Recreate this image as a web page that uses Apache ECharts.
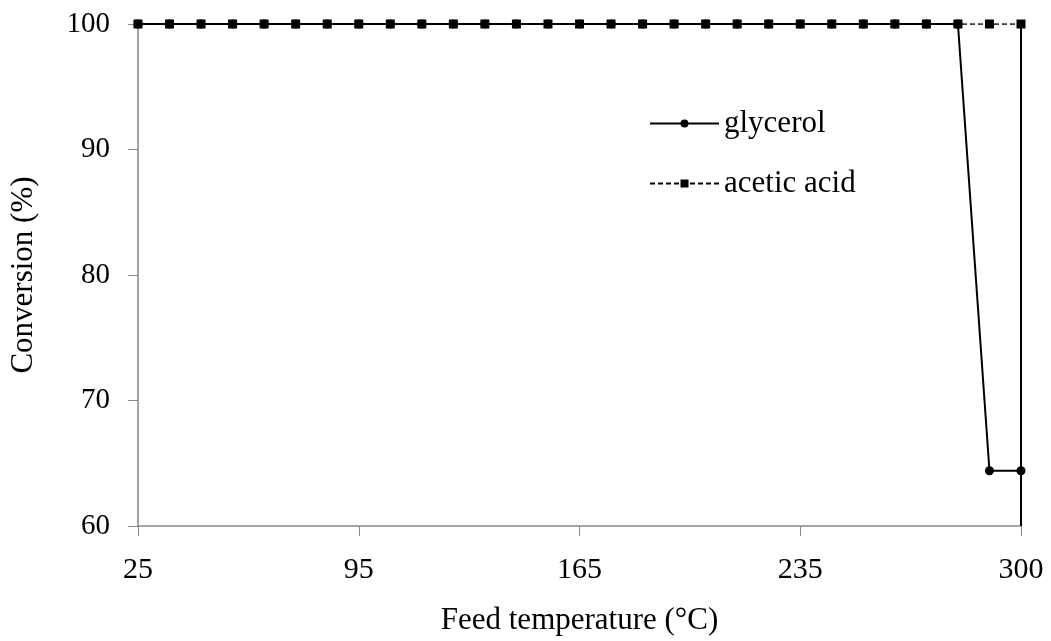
<!DOCTYPE html>
<html><head><meta charset="utf-8">
<script src="https://cdn.jsdelivr.net/npm/echarts@6/dist/echarts.min.js"></script>
<style>html,body{margin:0;padding:0;background:#fff}#c{width:1051px;height:641px}</style>
</head><body><div id="c"></div>
<script>
const categories = ['25','35','45','55','65','75','85','95','105','115','125','135','145','155','165','175','185','195','205','215','225','235','245','255','265','275','285','295','300'];
const glycerol = [100,100,100,100,100,100,100,100,100,100,100,100,100,100,100,100,100,100,100,100,100,100,100,100,100,100,100,64.4,64.4];
const aceticAcid = [100,100,100,100,100,100,100,100,100,100,100,100,100,100,100,100,100,100,100,100,100,100,100,100,100,100,100,100,100];
const yTicks = [60,70,80,90,100];

const font = '"Liberation Serif","Times New Roman",serif';
const chart = echarts.init(document.getElementById('c'), null, {renderer:'canvas'});
chart.setOption({
  animation:false,
  backgroundColor:'#fff',
  grid:{left:138,right:30,top:24,bottom:114,containLabel:false},
  legend:{
    orient:'vertical', left:649, top:108, padding:0, itemWidth:69, itemHeight:10, itemGap:29,
    textStyle:{fontFamily:font,fontSize:31,lineHeight:31,color:'#000'},
    data:['glycerol','acetic acid']
  },
  xAxis:{
    type:'category', data:categories, boundaryGap:false,
    name:'Feed temperature (°C)', nameLocation:'middle', nameGap:79,
    nameTextStyle:{fontFamily:font,fontSize:31,color:'#000'},
    axisLine:{lineStyle:{color:'#888',width:1.5}},
    axisTick:{show:true,interval:6,length:10,inside:false,lineStyle:{color:'#888'}},
    axisLabel:{interval:6,margin:29,fontFamily:font,fontSize:30,color:'#000'},
    splitLine:{show:false}
  },
  yAxis:{
    type:'value', min:yTicks[0], max:yTicks[yTicks.length-1], interval:10,
    name:'Conversion (%)', nameLocation:'middle', nameGap:99,
    nameTextStyle:{fontFamily:font,fontSize:31,color:'#000'},
    axisLine:{show:true,lineStyle:{color:'#888',width:1.5}},
    axisTick:{show:true,length:10,lineStyle:{color:'#888'}},
    axisLabel:{margin:28,fontFamily:font,fontSize:29,color:'#000'},
    splitLine:{show:false}
  },
  series:[
    {
      name:'glycerol', type:'line', data:glycerol,
      symbol:'circle', symbolSize:9, showAllSymbol:true,
      lineStyle:{color:'#000',width:2,type:'solid'},
      itemStyle:{color:'#000'},
      markLine:{
        silent:true, symbol:'none', label:{show:false},
        lineStyle:{color:'#000',width:2,type:'solid'},
        data:[[{coord:['300',60]},{coord:['300',100]}]]
      }
    },
    {
      name:'acetic acid', type:'line', data:aceticAcid,
      symbol:'rect', symbolSize:9, showAllSymbol:true,
      lineStyle:{color:'#000',width:1.5,type:[5,3]},
      itemStyle:{color:'#000'}
    }
  ]
});
</script></body></html>
